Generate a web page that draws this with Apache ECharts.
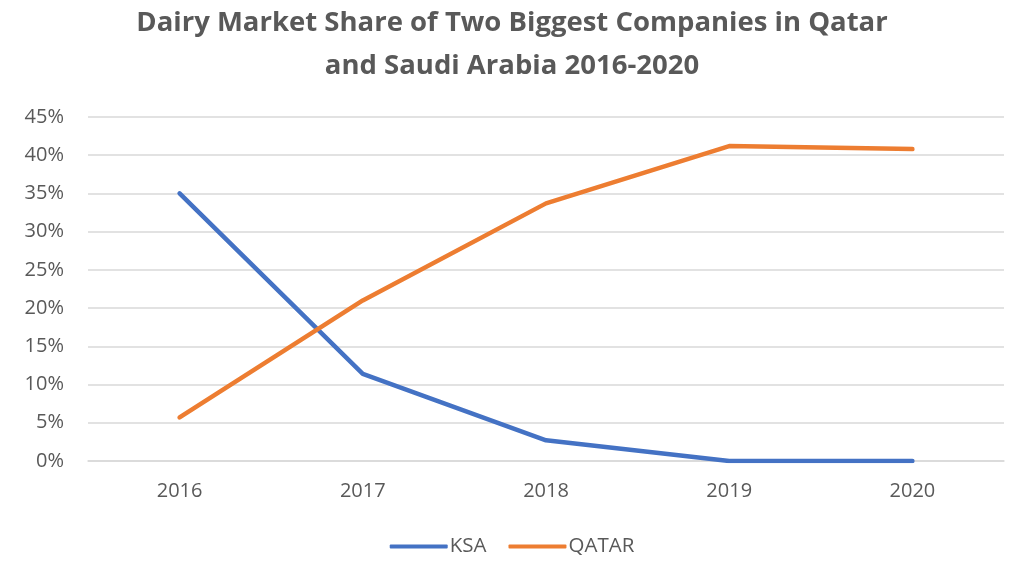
<!DOCTYPE html>
<html>
<head>
<meta charset="utf-8">
<script src="https://cdn.jsdelivr.net/npm/echarts@6/dist/echarts.min.js"></script>
<style>html,body{margin:0;padding:0;background:#fff}#c{width:1024px;height:574px}</style>
</head>
<body>
<div id="c"></div>
<script>
const titleText = 'Dairy Market Share of Two Biggest Companies in Qatar\nand Saudi Arabia 2016-2020';
const categories = ['2016', '2017', '2018', '2019', '2020'];
const ksa = [35.0, 11.4, 2.7, 0.0, 0.0];
const qatar = [5.7, 21.0, 33.7, 41.2, 40.8];
const seriesNames = ['KSA', 'QATAR'];

const chart = echarts.init(document.getElementById('c'));
chart.setOption({
  animation: false,
  title: {
    text: titleText,
    left: 'center',
    top: 2,
    padding: [0, 5, 0, 5],
    textStyle: {
      fontFamily: 'Open Sans',
      fontWeight: 'bold',
      fontSize: 27.5,
      color: '#595959',
      lineHeight: 43
    }
  },
  legend: {
    bottom: 12,
    left: 'center',
    itemWidth: 58,
    itemHeight: 4,
    itemGap: 22,
    icon: 'roundRect',
    textStyle: { fontFamily: 'Open Sans', fontSize: 20.5, color: '#595959', padding: [0, 0, 0, -3] },
    data: seriesNames
  },
  grid: { left: 88, right: 20, top: 117, bottom: 113, containLabel: false },
  xAxis: {
    type: 'category',
    data: categories,
    boundaryGap: true,
    axisLine: { show: true, lineStyle: { color: '#d9d9d9', width: 1.5 } },
    axisTick: { show: false },
    axisLabel: { fontFamily: 'Open Sans', fontSize: 20, color: '#595959', margin: 20 }
  },
  yAxis: {
    type: 'value',
    min: 0,
    max: 45,
    interval: 5,
    axisLine: { show: false },
    axisTick: { show: false },
    axisLabel: { formatter: '{value}%', fontFamily: 'Open Sans', fontSize: 20, color: '#595959', margin: 24 },
    splitLine: { lineStyle: { color: '#d9d9d9', width: 1.5 } }
  },
  series: [
    {
      name: seriesNames[0], type: 'line', data: ksa, showSymbol: false, symbol: 'none',
      lineStyle: { color: '#4472C4', width: 4.5, cap: 'round', join: 'round' },
      itemStyle: { color: '#4472C4' }
    },
    {
      name: seriesNames[1], type: 'line', data: qatar, showSymbol: false, symbol: 'none',
      lineStyle: { color: '#ED7D31', width: 4.5, cap: 'round', join: 'round' },
      itemStyle: { color: '#ED7D31' }
    }
  ]
});
</script>
</body>
</html>
